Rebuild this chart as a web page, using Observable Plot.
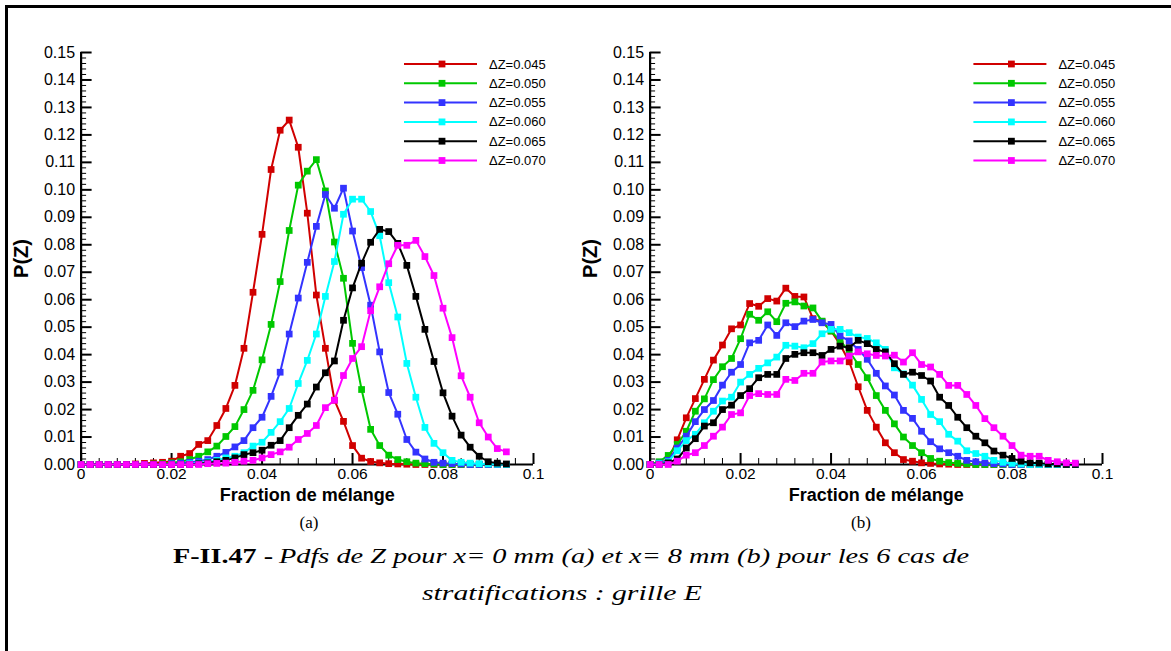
<!DOCTYPE html>
<html>
<head>
<meta charset="utf-8">
<script src="https://cdn.jsdelivr.net/npm/d3@7"></script>
<script src="https://cdn.jsdelivr.net/npm/@observablehq/plot@0.6"></script>
<style>
  html, body { margin: 0; padding: 0; background: #fff; }
  body { width: 1171px; height: 651px; overflow: hidden; position: relative; font-family: "Liberation Sans", Arial, sans-serif; }
  #pa, #pb, #overlay { position: absolute; top: 0; }
  #pa { left: 0; }
  #pb { left: 569.4px; }
  #overlay { left: 0; pointer-events: none; }
</style>
</head>
<body>
<div id="pa"></div>
<div id="pb"></div>
<svg id="overlay" width="1171" height="651"></svg>
<script>
// ---- data ----
const zGrid = [0,0.002,0.004,0.006,0.008,0.01,0.012,0.014,0.016,0.018,0.02,0.022,0.024,0.026,0.028,0.03,0.032,0.034,0.036,0.038,0.04,0.042,0.044,0.046,0.048,0.05,0.052,0.054,0.056,0.058,0.06,0.062,0.064,0.066,0.068,0.07,0.072,0.074,0.076,0.078,0.08,0.082,0.084,0.086,0.088,0.09,0.092,0.094];

const seriesNames = ["ΔZ=0.045", "ΔZ=0.050", "ΔZ=0.055", "ΔZ=0.060", "ΔZ=0.065", "ΔZ=0.070"];
const seriesColors = ["#d00000", "#00c800", "#3333ff", "#00ffff", "#000000", "#ff00ff"];

// panel (a): x = 0 mm
const a045 = [0,0,0,0,0,0,0.0002,0.0004,0.0006,0.0008, 0.0012,0.003,0.004,0.0073,0.0087, 0.0142,0.0204,0.0288,0.0423,0.0627, 0.0838,0.1074,0.1217,0.1254,0.1155, 0.0915,0.0617,0.0423,0.0234,0.0157, 0.0069,0.0023,0.0011,0.0006,0.0003, 0.0002,0.0001,0,0,0, 0,0,0,0,0, 0,0,0];
const a050 = [0,0,0,0,0,0,0,0,0.0002,0.0003, 0.0006,0.001,0.0018,0.003,0.0046, 0.0067,0.0102,0.0138,0.020,0.027, 0.0381,0.051,0.0666,0.0852,0.1017, 0.1068,0.1110,0.0996,0.081,0.0678, 0.0441,0.0273,0.0128,0.0069,0.0034, 0.0018,0.001,0.0005,0.0003,0.0002, 0,0,0,0,0, 0,0,0];
const a055 = [0,0,0,0,0,0,0,0,0,0, 0.0003,0.0005,0.0008,0.0012,0.0018, 0.003,0.0044,0.0064,0.0087,0.0134, 0.0172,0.0248,0.0336,0.0475,0.0606, 0.0736,0.0867,0.0983,0.0933,0.1006, 0.085,0.0717,0.058,0.041,0.0262, 0.0183,0.0091,0.0045,0.002,0.0008, 0.0005,0.0003,0.0002,0,0, 0,0,0];
const a060 = [0,0,0,0,0,0,0,0,0,0, 0,0,0.0003,0.0005,0.001, 0.0015,0.0024,0.003,0.0043,0.0067, 0.0081,0.0117,0.0156,0.0204,0.0295, 0.0379,0.0475,0.0612,0.0739,0.0911, 0.0966,0.0966,0.0921,0.0833,0.0662, 0.0537,0.0368,0.0245,0.0135,0.0077, 0.0043,0.0015,0.0008,0.0005,0.0003, 0.0002,0.0001,0];
const a065 = [0,0,0,0,0,0,0,0,0,0, 0,0,0,0.0003,0.0006, 0.001,0.0015,0.0024,0.0036,0.0043, 0.0052,0.007,0.0087,0.0134,0.0179, 0.022,0.0282,0.0334,0.0377,0.0525, 0.0643,0.0733,0.0809,0.0856,0.0848, 0.0805,0.0725,0.0612,0.0492,0.0375, 0.0261,0.0176,0.0107,0.0063,0.003, 0.001,0.0005,0.0002];
const a070 = [0,0,0,0,0,0,0,0,0,0, 0,0,0,0,0.0003, 0.0004,0.0005,0.0008,0.0012,0.0015, 0.0024,0.0036,0.0046,0.0063,0.0091, 0.0113,0.0142,0.0207,0.0234,0.0324, 0.0386,0.0429,0.056,0.0647,0.0731, 0.0798,0.0798,0.0816,0.0757,0.0688, 0.0569,0.0462,0.0323,0.0245,0.0152, 0.01,0.0058,0.0046];

// panel (b): x = 8 mm
const b045 = [0,0.0005,0.0018,0.009,0.017, 0.024,0.031,0.038,0.0435,0.0494, 0.0508,0.0586,0.0576,0.0604,0.0595, 0.0642,0.0612,0.061,0.0531,0.052, 0.0486,0.0437,0.0374,0.0283,0.0197, 0.0136,0.0079,0.0043,0.0018,0.0012, 0.0006,0.0004,0.0002,0.0001,0, 0,0,0,0,0, 0,0,0,0,0, 0,0,0];
const b050 = [0,0.001,0.0033,0.0073,0.0121, 0.0194,0.0239,0.0309,0.0356,0.0386, 0.0458,0.0547,0.0525,0.0556,0.052, 0.0587,0.0592,0.0577,0.057,0.0522, 0.0486,0.045,0.0413,0.0364,0.0316, 0.0251,0.0197,0.0148,0.01,0.0069, 0.0043,0.0022,0.0012,0.0007,0.0004, 0.0002,0,0,0,0, 0,0,0,0,0, 0,0,0];
const b055 = [0,0.0005,0.0015,0.006,0.0103, 0.0156,0.02,0.0233,0.0289,0.0336, 0.0364,0.0443,0.0452,0.0508,0.047, 0.0516,0.0502,0.0522,0.0528,0.0516, 0.051,0.0468,0.045,0.0419,0.0383, 0.0332,0.0286,0.0253,0.0197,0.0168, 0.0121,0.0083,0.0057,0.0043,0.003, 0.0015,0.001,0.0006,0.0003,0.0002, 0,0,0,0,0, 0,0,0];
const b060 = [0,0.0003,0.001,0.005,0.0087, 0.011,0.0152,0.0194,0.0231,0.0245, 0.03,0.0328,0.035,0.037,0.0391, 0.0434,0.0431,0.0425,0.044,0.0476, 0.0492,0.0492,0.048,0.0464,0.0459, 0.0443,0.0419,0.0352,0.033,0.0289, 0.0237,0.0182,0.0156,0.011,0.0085, 0.005,0.004,0.003,0.0015,0.0008, 0.0004,0.0002,0,0,0, 0,0,0];
const b065 = [0,0,0.0006,0.002,0.006, 0.0094,0.014,0.0152,0.02,0.0216, 0.0251,0.0276,0.0316,0.0328,0.0328, 0.0386,0.0401,0.0407,0.0407,0.0397, 0.0419,0.0431,0.0425,0.0452,0.044, 0.0419,0.041,0.0367,0.0328,0.0336, 0.0324,0.0304,0.0245,0.0215,0.0172, 0.0134,0.0103,0.0079,0.0049,0.0034, 0.0022,0.0012,0.0006,0.0005,0.0002, 0.0002,0,0];
const b070 = [0,0,0,0.0012,0.0034, 0.0043,0.0069,0.0103,0.0136,0.0182, 0.0188,0.0251,0.0258,0.0255,0.0255, 0.031,0.0306,0.0332,0.0332,0.0373, 0.0377,0.0377,0.0395,0.041,0.0403, 0.0397,0.0395,0.0398,0.0373,0.0407, 0.0364,0.0355,0.0328,0.0288,0.0288, 0.0255,0.0215,0.0167,0.0134,0.0103, 0.0069,0.0034,0.003,0.003,0.0015, 0.001,0.0006,0.0005];

const xTicks = [0, 0.02, 0.04, 0.06, 0.08, 0.1];
const xTickLabels = ["0", "0.02", "0.04", "0.06", "0.08", "0.1"];
const xMinorTicks = [0.004,0.008,0.012,0.016,0.024,0.028,0.032,0.036,0.044,0.048,0.052,0.056,0.064,0.068,0.072,0.076,0.084,0.088,0.092,0.096];
const yTicks = [0,0.01,0.02,0.03,0.04,0.05,0.06,0.07,0.08,0.09,0.10,0.11,0.12,0.13,0.14,0.15];
const yTickLabels = ["0.00","0.01","0.02","0.03","0.04","0.05","0.06","0.07","0.08","0.09","0.10","0.11","0.12","0.13","0.14","0.15"];
const yMinorTicks = [];
yTicks.slice(0, -1).forEach((t, i) => [0.002, 0.004, 0.006, 0.008].forEach(d => yMinorTicks.push(+(t + d).toFixed(3))));

const xLabel = "Fraction de mélange";
const yLabel = "P(Z)";
const panelTags = ["(a)", "(b)"];
const captionBold = "F-II.47 -";
const captionLine1 = "Pdfs de Z pour x= 0 mm (a) et x= 8 mm (b) pour les 6 cas de";
const captionLine2 = "stratifications : grille E";

// ---- chart ----
const font = "'Liberation Sans', Arial, Helvetica, sans-serif";

function panel(seriesValues) {
  const marks = [
    Plot.axisY({ticks: yMinorTicks, tickSize: -5.5, fill: "none", strokeWidth: 1, label: null}),
    Plot.axisY({ticks: yTicks, tickSize: -11, fill: "none", strokeWidth: 2, label: null}),
    Plot.axisY({ticks: yTicks, tickSize: 0, tickPadding: 6, stroke: "none", fontSize: 16,
      tickFormat: d => yTickLabels[yTicks.findIndex(t => Math.abs(t - d) < 1e-9)], label: null}),
    Plot.axisY({ticks: [], tickSize: 0, label: yLabel, labelAnchor: "center", labelArrow: "none",
      labelOffset: 67, fontSize: 20, fontWeight: "bold"}),
    Plot.axisX({ticks: xMinorTicks, tickSize: -6, fill: "none", strokeWidth: 1, label: null}),
    Plot.axisX({ticks: xTicks, tickSize: -11, fill: "none", strokeWidth: 2, label: null}),
    Plot.axisX({ticks: xTicks, tickSize: 0, tickPadding: 3, stroke: "none", fontSize: 15.5,
      tickFormat: d => xTickLabels[xTicks.findIndex(t => Math.abs(t - d) < 1e-9)], label: null}),
    Plot.axisX({ticks: [], tickSize: 0, label: xLabel, labelAnchor: "center", labelArrow: "none",
      labelOffset: 36, fontSize: 18, fontWeight: "bold"}),
    Plot.ruleX([0], {strokeWidth: 2.2}),
    Plot.ruleY([0], {strokeWidth: 2.2})
  ];
  seriesValues.forEach((vals, k) => {
    const rows = vals.map((v, i) => ({z: zGrid[i], p: v}));
    marks.push(Plot.line(rows, {x: "z", y: "p", stroke: seriesColors[k], strokeWidth: 2}));
    marks.push(Plot.dot(rows, {x: "z", y: "p", symbol: "square", r: 3.8, fill: seriesColors[k], stroke: "none"}));
  });
  return Plot.plot({
    width: 569, height: 510,
    marginLeft: 80.6, marginRight: 36, marginTop: 52, marginBottom: 46,
    style: {fontFamily: font, color: "#000", background: "transparent", overflow: "visible"},
    x: {domain: [0, 0.1]},
    y: {domain: [0, 0.15]},
    marks
  });
}

document.getElementById("pa").appendChild(panel([a045, a050, a055, a060, a065, a070]));
document.getElementById("pb").appendChild(panel([b045, b050, b055, b060, b065, b070]));

// ---- legends, border, caption ----
const ov = d3.select("#overlay");
// page border (top and left)
ov.append("line").attr("x1", 5).attr("x2", 1171).attr("y1", 6.5).attr("y2", 6.5).attr("stroke", "#000").attr("stroke-width", 3);
ov.append("line").attr("x1", 6.5).attr("x2", 6.5).attr("y1", 5).attr("y2", 651).attr("stroke", "#000").attr("stroke-width", 3);

[0, 569.4].forEach(off => {
  seriesNames.forEach((name, k) => {
    const y = 64 + k * 19.3;
    const g = ov.append("g");
    g.append("line").attr("x1", off + 404).attr("x2", off + 477).attr("y1", y).attr("y2", y)
      .attr("stroke", seriesColors[k]).attr("stroke-width", 2);
    g.append("rect").attr("x", off + 442 - 3.4).attr("y", y - 3.4).attr("width", 6.8).attr("height", 6.8).attr("fill", seriesColors[k]);
    g.append("text").attr("x", off + 489).attr("y", y + 4.5).attr("font-family", font).attr("font-size", 13)
      .attr("fill", "#000").text(name);
  });
});

const serif = "'Liberation Serif', 'DejaVu Serif', serif";
[309, 861].forEach((cx, i) => {
  ov.append("text").attr("x", cx).attr("y", 528).attr("text-anchor", "middle").attr("font-family", serif)
    .attr("font-size", 17).text(panelTags[i]);
});
ov.append("text").attr("x", 173).attr("y", 563).attr("font-family", serif).attr("font-weight", "bold")
  .attr("font-size", 20).attr("textLength", 100).attr("lengthAdjust", "spacingAndGlyphs").text(captionBold);
ov.append("text").attr("x", 279).attr("y", 563).attr("font-family", serif).attr("font-style", "italic")
  .attr("font-size", 20).attr("textLength", 690).attr("lengthAdjust", "spacingAndGlyphs").text(captionLine1);
ov.append("text").attr("x", 422).attr("y", 600).attr("font-family", serif).attr("font-style", "italic")
  .attr("font-size", 20).attr("textLength", 280).attr("lengthAdjust", "spacingAndGlyphs").text(captionLine2);
</script>
</body>
</html>
